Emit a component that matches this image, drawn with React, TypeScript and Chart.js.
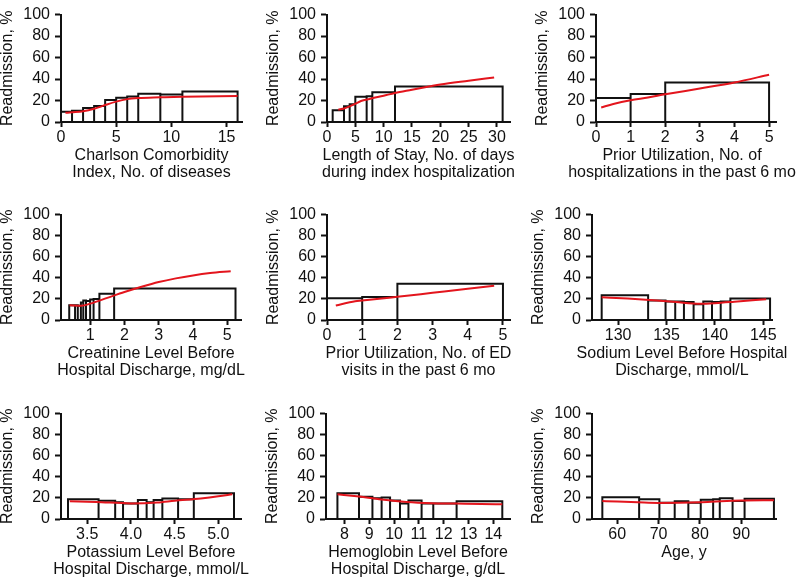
import React, { useEffect, useRef } from "react";
import { Chart, registerables } from "chart.js";
Chart.register(...registerables);

const FONT = "'Liberation Sans', Arial, Helvetica, sans-serif";
const Y_TICKS = [0, 20, 40, 60, 80, 100];
const Y_TITLE = "Readmission, %";

// 1. Charlson Comorbidity Index
const charlsonEdges = [0, 1, 2, 3, 4, 5, 6, 7, 9, 11, 16];
const charlsonRates = [9.5, 10.5, 13, 15, 20.5, 22.5, 23.7, 26.3, 25.7, 28.3];
const charlsonCurveX = [0.4, 1, 2, 3, 4, 5, 6, 7, 9, 11, 16];
const charlsonCurveY = [8.5, 9, 10, 12.3, 15.8, 19, 21.3, 22.3, 23, 23.6, 24.2];
const charlsonTicks = [0, 5, 10, 15];
const charlsonTickLabels = ["0", "5", "10", "15"];
const charlsonTitle = ["Charlson Comorbidity", "Index, No. of diseases"];

// 2. Length of stay
const losEdges = [1, 3, 4, 5, 7, 8, 12, 31];
const losRates = [11, 14.6, 16.6, 23.6, 24, 27.7, 33];
const losCurveX = [2, 3, 4, 5, 6, 7.5, 10, 12, 15, 18, 20, 25, 29.5];
const losCurveY = [11.5, 12.5, 14.5, 17, 19.5, 21.5, 24.5, 27, 30, 33, 35, 38.5, 41.5];
const losTicks = [0, 5, 10, 15, 20, 25, 30];
const losTickLabels = ["0", "5", "10", "15", "20", "25", "30"];
const losTitle = ["Length of Stay, No. of days", "during index hospitalization"];

// 3. Prior hospitalizations
const priorHospEdges = [0, 1, 2, 5];
const priorHospRates = [22.3, 26, 36.8];
const priorHospCurveX = [0.15, 0.5, 1, 1.5, 2, 3, 4, 5];
const priorHospCurveY = [13.5, 16.8, 20.3, 22.8, 25.8, 31.2, 36.8, 44];
const priorHospTicks = [0, 1, 2, 3, 4, 5];
const priorHospTickLabels = ["0", "1", "2", "3", "4", "5"];
const priorHospTitle = ["Prior Utilization, No. of", "hospitalizations in the past 6 mo"];

// 4. Creatinine
const creatEdges = [0.39, 0.56, 0.64, 0.73, 0.8, 0.88, 1.0, 1.1, 1.27, 1.7, 5.24];
const creatRates = [14, 14, 13.5, 16.5, 18.5, 18, 19.5, 20, 25, 30];
const creatCurveX = [0.4, 0.75, 1, 1.5, 2, 2.5, 3, 3.5, 4, 4.5, 5.1];
const creatCurveY = [14, 13.5, 15.5, 21, 26.5, 31.5, 36, 39.5, 42.3, 44.5, 46.3];
const creatTicks = [1, 2, 3, 4, 5];
const creatTickLabels = ["1", "2", "3", "4", "5"];
const creatTitle = ["Creatinine Level Before", "Hospital Discharge, mg/dL"];

// 5. Prior ED visits
const edEdges = [0, 1, 2, 5];
const edRates = [20.6, 21.8, 34.4];
const edCurveX = [0.25, 0.8, 1, 2, 3, 4, 4.75];
const edCurveY = [13.8, 17.8, 18.4, 22, 25.8, 29.6, 32.4];
const edTicks = [0, 1, 2, 3, 4, 5];
const edTickLabels = ["0", "1", "2", "3", "4", "5"];
const edTitle = ["Prior Utilization, No. of ED", "visits in the past 6 mo"];

// 6. Sodium
const sodiumEdges = [128.3, 133.1, 134.9, 135.9, 136.8, 137.8, 138.8, 139.7, 140.6, 141.6, 145.7];
const sodiumRates = [23.5, 18.5, 17.5, 17.5, 17, 15, 17.5, 17, 17.5, 20.5];
const sodiumCurveX = [128.3, 131, 134, 136, 138.5, 140, 142, 145.3];
const sodiumCurveY = [21.5, 20.3, 18.5, 17, 15.5, 16, 17.3, 19.7];
const sodiumTicks = [130, 135, 140, 145];
const sodiumTickLabels = ["130", "135", "140", "145"];
const sodiumTitle = ["Sodium Level Before Hospital", "Discharge, mmol/L"];

// 7. Potassium
const potEdges = [3.28, 3.63, 3.82, 3.91, 4.08, 4.18, 4.26, 4.36, 4.54, 4.72, 5.18];
const potRates = [18.8, 17.2, 16, 14.7, 18, 15.9, 18, 19.5, 18.7, 24.5];
const potCurveX = [3.3, 3.6, 4.0, 4.3, 4.5, 4.8, 5.0, 5.16];
const potCurveY = [16.8, 16.2, 14.8, 15.6, 17.3, 19.5, 21.5, 23.5];
const potTicks = [3.5, 4.0, 4.5, 5.0];
const potTickLabels = ["3.5", "4.0", "4.5", "5.0"];
const potTitle = ["Potassium Level Before", "Hospital Discharge, mmol/L"];

// 8. Hemoglobin
const hgbEdges = [7.72, 8.59, 9.13, 9.5, 9.84, 10.24, 10.58, 11.11, 11.58, 12.52, 14.36];
const hgbRates = [24.4, 21.2, 19.7, 20.3, 17.6, 14.7, 17.6, 14.7, 14.7, 16.8];
const hgbCurveX = [7.72, 8.5, 9.5, 10.5, 11.5, 12.5, 13.5, 14.36];
const hgbCurveY = [23.5, 21.5, 18.5, 16.2, 15, 14.6, 14.2, 13.9];
const hgbTicks = [8, 9, 10, 11, 12, 13, 14];
const hgbTickLabels = ["8", "9", "10", "11", "12", "13", "14"];
const hgbTitle = ["Hemoglobin Level Before", "Hospital Discharge, g/dL"];

// 9. Age
const ageEdges = [56.4, 65.3, 70.2, 73.9, 77.2, 80.2, 83.2, 84.8, 87.9, 90.8, 97.9];
const ageRates = [20.6, 18.8, 15.3, 16.8, 15.3, 18.2, 18.8, 19.7, 17, 19.1];
const ageCurveX = [56.4, 60, 65, 70, 75, 80, 85, 90, 97.9];
const ageCurveY = [17, 16.5, 15.8, 15.2, 15.3, 15.8, 16.8, 17.5, 17.8];
const ageTicks = [60, 70, 80, 90];
const ageTickLabels = ["60", "70", "80", "90"];
const ageTitle = ["Age, y"];

type Panel = {
  edges: number[]; rates: number[]; cx: number[]; cy: number[];
  ticks: number[]; tickLabels: string[]; title: string[];
  min: number; max: number;
  axisX: number; top: number; areaW: number; areaH: number; titleDx?: number;
};

const PANELS: Panel[] = [
  { edges: charlsonEdges, rates: charlsonRates, cx: charlsonCurveX, cy: charlsonCurveY, ticks: charlsonTicks, tickLabels: charlsonTickLabels, title: charlsonTitle, min: 0, max: 16.4, axisX: 61, top: 7, areaW: 181, areaH: 115 },
  { edges: losEdges, rates: losRates, cx: losCurveX, cy: losCurveY, ticks: losTicks, tickLabels: losTickLabels, title: losTitle, min: 0, max: 32.3, axisX: 327, top: 7, areaW: 183, areaH: 115 },
  { edges: priorHospEdges, rates: priorHospRates, cx: priorHospCurveX, cy: priorHospCurveY, ticks: priorHospTicks, tickLabels: priorHospTickLabels, title: priorHospTitle, min: 0, max: 5.2, axisX: 596, top: 7, areaW: 180, areaH: 115, titleDx: -4 },
  { edges: creatEdges, rates: creatRates, cx: creatCurveX, cy: creatCurveY, ticks: creatTicks, tickLabels: creatTickLabels, title: creatTitle, min: 0.15, max: 5.4, axisX: 61, top: 207, areaW: 180, areaH: 113 },
  { edges: edEdges, rates: edRates, cx: edCurveX, cy: edCurveY, ticks: edTicks, tickLabels: edTickLabels, title: edTitle, min: 0, max: 5.2, axisX: 327, top: 207, areaW: 183, areaH: 113 },
  { edges: sodiumEdges, rates: sodiumRates, cx: sodiumCurveX, cy: sodiumCurveY, ticks: sodiumTicks, tickLabels: sodiumTickLabels, title: sodiumTitle, min: 127.3, max: 145.9, axisX: 592, top: 207, areaW: 180, areaH: 113 },
  { edges: potEdges, rates: potRates, cx: potCurveX, cy: potCurveY, ticks: potTicks, tickLabels: potTickLabels, title: potTitle, min: 3.2, max: 5.26, axisX: 61, top: 406, areaW: 180, areaH: 113 },
  { edges: hgbEdges, rates: hgbRates, cx: hgbCurveX, cy: hgbCurveY, ticks: hgbTicks, tickLabels: hgbTickLabels, title: hgbTitle, min: 7.26, max: 14.67, axisX: 326, top: 406, areaW: 184, areaH: 113 },
  { edges: ageEdges, rates: ageRates, cx: ageCurveX, cy: ageCurveY, ticks: ageTicks, tickLabels: ageTickLabels, title: ageTitle, min: 53.9, max: 98.4, axisX: 592, top: 406, areaW: 184, areaH: 113 },
];

const Y_AXIS_W = 61;
const X_AXIS_H = 65;
const PAD_TOP = 7;
const PAD_RIGHT = 24;
const TITLE_OFFSET = 34;
const TITLE_GAP = 17;

function histogramOutline(edges: number[], rates: number[]) {
  const pts: { x: number; y: number }[] = [];
  for (let i = 0; i < rates.length; i++) {
    pts.push({ x: edges[i], y: 0 });
    pts.push({ x: edges[i], y: rates[i] });
    pts.push({ x: edges[i + 1], y: rates[i] });
    pts.push({ x: edges[i + 1], y: 0 });
  }
  return pts;
}

// Draws the multi-line x-axis title centred under the plot area, without width squeezing.
const xTitlePlugin = {
  id: "xTitle",
  afterDraw(chart: any, _args: any, opts: any) {
    const { ctx, chartArea } = chart;
    const lines: string[] = opts.lines || [];
    ctx.save();
    ctx.font = `16px ${FONT}`;
    ctx.fillStyle = "#111";
    ctx.textAlign = "center";
    ctx.textBaseline = "middle";
    const cx = (chartArea.left + chartArea.right) / 2 + (opts.dx || 0);
    lines.forEach((t, i) => ctx.fillText(t, cx, chartArea.bottom + TITLE_OFFSET + i * TITLE_GAP));
    ctx.restore();
  },
};

function PanelChart({ p }: { p: Panel }) {
  const ref = useRef<HTMLCanvasElement | null>(null);
  const width = Y_AXIS_W + p.areaW + PAD_RIGHT;
  const height = PAD_TOP + p.areaH + X_AXIS_H;
  useEffect(() => {
    if (!ref.current) return;
    const chart = new Chart(ref.current, {
      type: "line",
      data: {
        datasets: [
          {
            data: p.cx.map((x, i) => ({ x, y: p.cy[i] })),
            borderColor: "#e3151d",
            borderWidth: 2,
            pointRadius: 0,
            cubicInterpolationMode: "monotone",
            fill: false,
          },
          {
            data: histogramOutline(p.edges, p.rates),
            borderColor: "#111",
            borderWidth: 2,
            pointRadius: 0,
            tension: 0,
            fill: false,
          },
        ],
      },
      plugins: [xTitlePlugin],
      options: {
        animation: false,
        responsive: false,
        maintainAspectRatio: false,
        layout: { padding: { top: PAD_TOP, right: PAD_RIGHT, bottom: 0, left: 0 }, autoPadding: false },
        plugins: { legend: { display: false }, tooltip: { enabled: false }, xTitle: { lines: p.title, dx: p.titleDx || 0 } },
        scales: {
          x: {
            type: "linear",
            min: p.min,
            max: p.max,
            afterBuildTicks: (ax: any) => { ax.ticks = p.ticks.map((v) => ({ value: v })); },
            afterFit: (ax: any) => { ax.height = X_AXIS_H; },
            ticks: {
              autoSkip: false, maxRotation: 0, minRotation: 0, padding: 1, color: "#111",
              font: { family: FONT, size: 16 },
              callback: (v: any, i: number) => p.tickLabels[i],
            },
            grid: { drawOnChartArea: false, drawTicks: true, tickLength: 5, tickWidth: 2, tickColor: "#111", color: "#111" },
            border: { display: true, color: "#111", width: 2 },
            title: { display: false },
          },
          y: {
            type: "linear",
            min: 0,
            max: 100,
            afterBuildTicks: (ax: any) => { ax.ticks = Y_TICKS.map((v) => ({ value: v })); },
            afterFit: (ax: any) => { ax.width = Y_AXIS_W; },
            ticks: { autoSkip: false, padding: 5, color: "#111", font: { family: FONT, size: 16 }, callback: (v: any) => String(v) },
            grid: { drawOnChartArea: false, drawTicks: true, tickLength: 6, tickWidth: 2, tickColor: "#111", color: "#111" },
            border: { display: true, color: "#111", width: 2 },
            title: { display: true, text: Y_TITLE, color: "#111", font: { family: FONT, size: 16, lineHeight: 1 }, padding: { top: 0, bottom: 0 } },
          },
        },
      } as any,
    });
    return () => chart.destroy();
  }, [p]);
  return (
    <canvas
      ref={ref}
      width={width}
      height={height}
      style={{ position: "absolute", left: p.axisX - Y_AXIS_W, top: p.top - PAD_TOP, width, height }}
    />
  );
}

export default function App() {
  return (
    <div style={{ position: "absolute", left: 0, top: 0, width: 800, height: 579, overflow: "hidden", background: "#fff" }}>
      {PANELS.map((p, i) => (
        <PanelChart key={i} p={p} />
      ))}
    </div>
  );
}
